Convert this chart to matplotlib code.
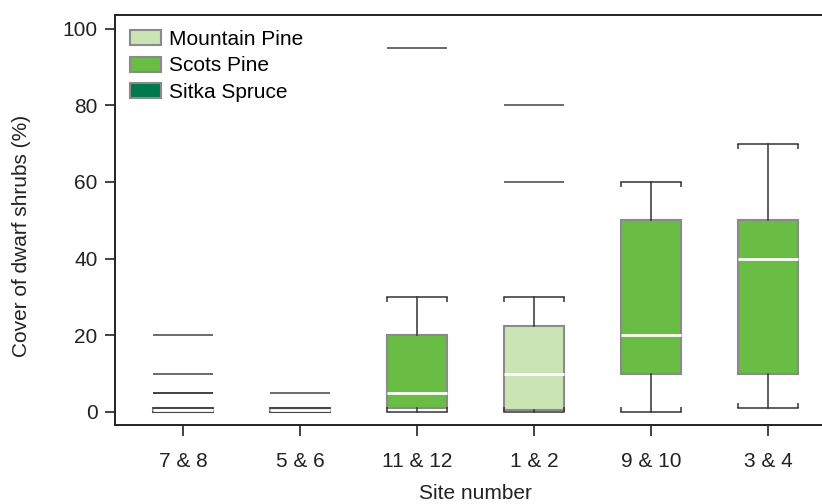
import matplotlib
matplotlib.use("Agg")
import matplotlib.pyplot as plt
from matplotlib.patches import Patch

plt.rcParams['font.family'] = ['Liberation Sans', 'DejaVu Sans']

# Site pairs and the dominant tree species of each
sites = ['7 & 8', '5 & 6', '11 & 12', '1 & 2', '9 & 10', '3 & 4']
species = ['Mountain Pine', 'Sitka Spruce', 'Scots Pine', 'Mountain Pine', 'Scots Pine', 'Scots Pine']

# Box statistics, cover of dwarf shrubs (%)
whislo = [0, 0, 0, 0, 0, 1]
q1 = [0, 0, 1, 0.5, 10, 10]
med = [0.5, 0.5, 5, 10, 20, 40]
q3 = [1, 1, 20, 22.5, 50, 50]
whishi = [1, 1, 30, 30, 60, 70]
outliers = [[5, 5, 10, 20], [5], [95], [60, 80], [], []]

species_colors = {
    'Mountain Pine': '#cbe4b4',
    'Scots Pine': '#69bd45',
    'Sitka Spruce': '#00794f',
}

stats = []
for i, site in enumerate(sites):
    stats.append(dict(label=site, whislo=whislo[i], q1=q1[i], med=med[i],
                      q3=q3[i], whishi=whishi[i], fliers=outliers[i]))

fig = plt.figure(figsize=(8.22, 5.04), dpi=100)
ax = fig.add_axes([0.140, 0.157, 0.860, 0.813])

box_width = 0.51
positions = list(range(len(sites)))
bp = ax.bxp(stats, positions=positions, widths=box_width, patch_artist=True,
            showfliers=True,
            boxprops=dict(edgecolor='#8a8a8a', linewidth=1.5),
            medianprops=dict(color='white', linewidth=2),
            whiskerprops=dict(color='#333333', linewidth=1.1),
            capprops=dict(color='#333333', linewidth=1.1),
            capwidths=box_width,
            flierprops=dict(marker='_', markersize=43, markeredgewidth=1.4,
                            markeredgecolor='#3a3a3a', alpha=0.75))

for patch, sp in zip(bp['boxes'], species):
    patch.set_facecolor(species_colors[sp])

# small bracket ends on the whisker caps
for x, lo, hi, top in zip(positions, whislo, whishi, q3):
    if hi > top:
        ax.vlines([x - box_width / 2, x + box_width / 2], hi - 1.3, hi,
                  color='#333333', linewidth=1.1)
        ax.vlines([x - box_width / 2, x + box_width / 2], lo, lo + 1.3,
                  color='#333333', linewidth=1.1)

ax.set_xlim(-0.58, 5.46)
ax.set_ylim(-3.4, 103.5)
ax.set_yticks([0, 20, 40, 60, 80, 100])
ax.set_xticks(positions)
ax.set_xticklabels(sites)

ax.spines['right'].set_visible(False)
for side in ['left', 'bottom', 'top']:
    ax.spines[side].set_linewidth(1.4)
    ax.spines[side].set_color('#222222')

ax.tick_params(axis='both', labelsize=15, color='#222222', labelcolor='#222222')
ax.tick_params(axis='x', length=8, width=1.2, pad=11.5)
ax.tick_params(axis='y', length=7.5, width=1.2, pad=5)

ax.set_ylabel('Cover of dwarf shrubs (%)', fontsize=15, color='#222222')
ax.set_xlabel('Site number', fontsize=15, color='#222222', va='baseline')
ax.yaxis.set_label_coords(-0.119, 0.46)
ax.xaxis.set_label_coords(0.51, -0.1817)

handles = [Patch(facecolor=species_colors[name], edgecolor='#8a8a8a', linewidth=1.5, label=name)
           for name in ['Mountain Pine', 'Scots Pine', 'Sitka Spruce']]
ax.legend(handles=handles, loc='upper left', frameon=False, fontsize=15,
          handlelength=1.5, handleheight=0.72, labelspacing=0.37,
          handletextpad=0.38, borderaxespad=0.3, bbox_to_anchor=(0.0, 1.0))

fig.savefig('out.png', dpi=100)
